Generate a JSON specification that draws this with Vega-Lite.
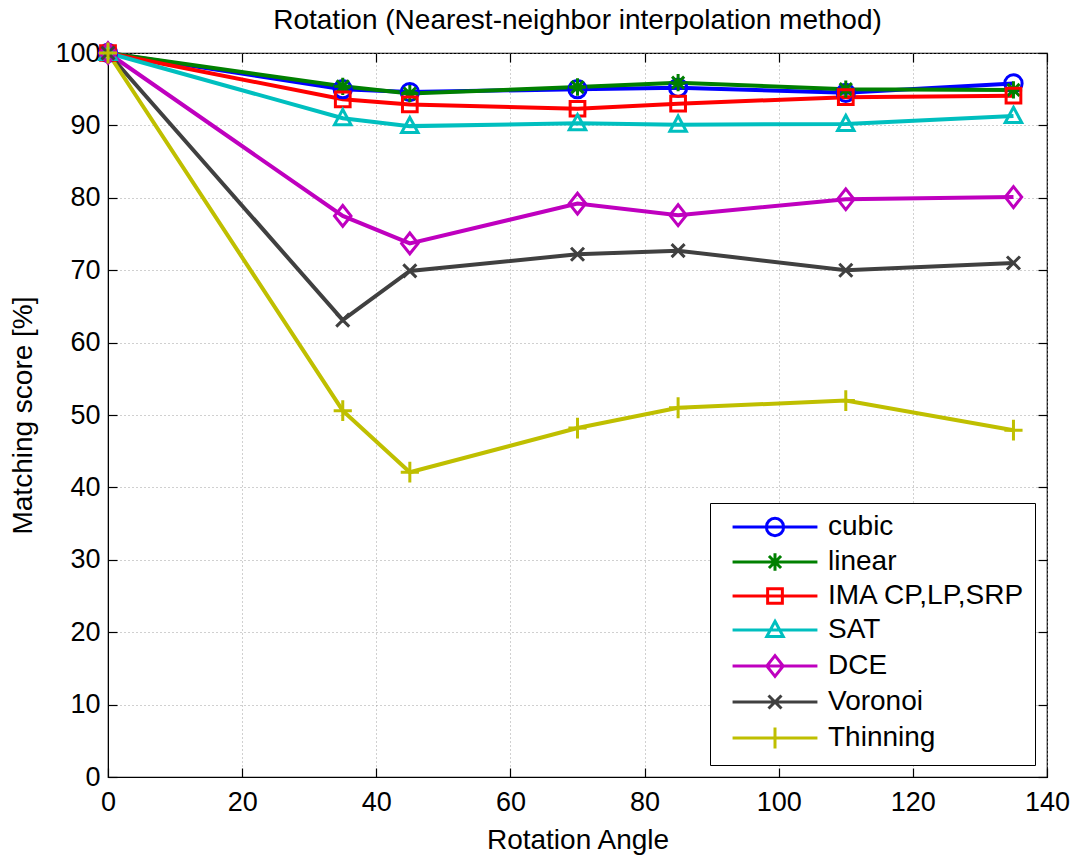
{
  "$schema": "https://vega.github.io/schema/vega-lite/v6.json",
  "width": 939,
  "height": 724,
  "autosize": {"type": "none"},
  "padding": {"left": 108, "top": 53, "right": 32, "bottom": 80},
  "background": "white",
  "title": {"text": "Rotation (Nearest-neighbor interpolation method)", "fontSize": 28, "fontWeight": "normal", "font": "Liberation Sans", "color": "black", "anchor": "middle", "offset": 2},
  "config": {
    "font": "Liberation Sans",
    "view": {"stroke": "black", "strokeWidth": 1.2},
    "axis": {
      "labelFont": "Liberation Sans", "titleFont": "Liberation Sans",
      "labelFontSize": 27, "titleFontSize": 28, "titleFontWeight": "normal",
      "labelColor": "black", "titleColor": "black",
      "domainColor": "black", "tickColor": "black", "tickSize": -9, "tickWidth": 1.2,
      "gridColor": "#a0a0a0", "gridDash": [1, 3], "gridWidth": 1
    },
    "legend": {"labelFont": "Liberation Sans", "labelFontSize": 28, "labelColor": "black", "labelLimit": 400}
  },
  "data": {"values": [
    {"series": "cubic", "angle": 0, "score": 100},
    {"series": "cubic", "angle": 35, "score": 95.0},
    {"series": "cubic", "angle": 45, "score": 94.6},
    {"series": "cubic", "angle": 70, "score": 95.0},
    {"series": "cubic", "angle": 85, "score": 95.2},
    {"series": "cubic", "angle": 110, "score": 94.5},
    {"series": "cubic", "angle": 135, "score": 95.8},
    {"series": "linear", "angle": 0, "score": 100},
    {"series": "linear", "angle": 35, "score": 95.4},
    {"series": "linear", "angle": 45, "score": 94.4},
    {"series": "linear", "angle": 70, "score": 95.3},
    {"series": "linear", "angle": 85, "score": 95.9},
    {"series": "linear", "angle": 110, "score": 95.0},
    {"series": "linear", "angle": 135, "score": 94.9},
    {"series": "IMA CP,LP,SRP", "angle": 0, "score": 100},
    {"series": "IMA CP,LP,SRP", "angle": 35, "score": 93.6},
    {"series": "IMA CP,LP,SRP", "angle": 45, "score": 92.9},
    {"series": "IMA CP,LP,SRP", "angle": 70, "score": 92.3},
    {"series": "IMA CP,LP,SRP", "angle": 85, "score": 93.0},
    {"series": "IMA CP,LP,SRP", "angle": 110, "score": 93.9},
    {"series": "IMA CP,LP,SRP", "angle": 135, "score": 94.1},
    {"series": "SAT", "angle": 0, "score": 100},
    {"series": "SAT", "angle": 35, "score": 91.0},
    {"series": "SAT", "angle": 45, "score": 89.9},
    {"series": "SAT", "angle": 70, "score": 90.3},
    {"series": "SAT", "angle": 85, "score": 90.1},
    {"series": "SAT", "angle": 110, "score": 90.2},
    {"series": "SAT", "angle": 135, "score": 91.3},
    {"series": "DCE", "angle": 0, "score": 100},
    {"series": "DCE", "angle": 35, "score": 77.5},
    {"series": "DCE", "angle": 45, "score": 73.7},
    {"series": "DCE", "angle": 70, "score": 79.2},
    {"series": "DCE", "angle": 85, "score": 77.6},
    {"series": "DCE", "angle": 110, "score": 79.8},
    {"series": "DCE", "angle": 135, "score": 80.1},
    {"series": "Voronoi", "angle": 0, "score": 100},
    {"series": "Voronoi", "angle": 35, "score": 63.1},
    {"series": "Voronoi", "angle": 45, "score": 69.9},
    {"series": "Voronoi", "angle": 70, "score": 72.2},
    {"series": "Voronoi", "angle": 85, "score": 72.7},
    {"series": "Voronoi", "angle": 110, "score": 70.0},
    {"series": "Voronoi", "angle": 135, "score": 71.0},
    {"series": "Thinning", "angle": 0, "score": 100},
    {"series": "Thinning", "angle": 35, "score": 50.6},
    {"series": "Thinning", "angle": 45, "score": 42.1},
    {"series": "Thinning", "angle": 70, "score": 48.2},
    {"series": "Thinning", "angle": 85, "score": 51.0},
    {"series": "Thinning", "angle": 110, "score": 52.0},
    {"series": "Thinning", "angle": 135, "score": 47.9}
  ]},
  "layer": [
    {
      "encoding": {
        "x": {"field": "angle", "type": "quantitative", "title": "Rotation Angle",
          "scale": {"domain": [0, 140], "nice": false},
          "axis": {"orient": "bottom", "values": [0, 20, 40, 60, 80, 100, 120, 140], "labelPadding": 21, "titlePadding": 11, "grid": true, "labelFlush": false}},
        "y": {"field": "score", "type": "quantitative", "title": "Matching score [%]",
          "scale": {"domain": [0, 100], "nice": false},
          "axis": {"orient": "left", "values": [0, 10, 20, 30, 40, 50, 60, 70, 80, 90, 100], "labelPadding": 17, "titlePadding": 17, "grid": true, "labelFlush": false}},
        "color": {"field": "series", "type": "nominal",
          "scale": {"domain": ["cubic", "linear", "IMA CP,LP,SRP", "SAT", "DCE", "Voronoi", "Thinning"],
                    "range": ["#0000FF", "#008000", "#FF0000", "#00BFBF", "#BF00BF", "#404040", "#BFBF00"]},
          "legend": null}
      },
      "layer": [
        {
          "mark": {"type": "line", "strokeWidth": 4},
          "encoding": {"detail": {"field": "series"}}
        },
        {
          "mark": {"type": "point", "filled": false, "strokeWidth": 3, "size": 300, "opacity": 1},
          "encoding": {
            "shape": {"field": "series", "type": "nominal",
              "scale": {"domain": ["cubic", "linear", "IMA CP,LP,SRP", "SAT", "DCE", "Voronoi", "Thinning"],
                        "range": [
                          "M-1,0A1,1,0,1,1,1,0A1,1,0,1,1,-1,0Z",
                          "M-1,0H1M0,-1V1M-0.7,-0.7L0.7,0.7M-0.7,0.7L0.7,-0.7",
                          "M-0.85,-0.85H0.85V0.85H-0.85Z",
                          "M0,-1L0.95,0.75H-0.95Z",
                          "M0,-1.2L0.95,0L0,1.2L-0.95,0Z",
                          "M-0.75,-0.75L0.75,0.75M-0.75,0.75L0.75,-0.75",
                          "M-1.05,0H1.05M0,-1.2V1.2"
                        ]},
              "legend": null}
          }
        }
      ]
    },
    {
      "mark": {"type": "point", "opacity": 0, "filled": false, "size": 300, "strokeWidth": 3},
      "encoding": {
        "x": {"field": "angle", "type": "quantitative", "scale": {"domain": [0, 140], "nice": false}, "axis": {"orient": "top", "values": [0, 20, 40, 60, 80, 100, 120, 140], "labels": false, "grid": false, "title": null, "domain": false}},
        "y": {"field": "score", "type": "quantitative", "scale": {"domain": [0, 100], "nice": false}, "axis": {"orient": "right", "values": [0, 10, 20, 30, 40, 50, 60, 70, 80, 90, 100], "labels": false, "grid": false, "title": null, "domain": false}},
        "color": {"field": "series", "type": "nominal",
          "scale": {"domain": ["cubic", "linear", "IMA CP,LP,SRP", "SAT", "DCE", "Voronoi", "Thinning"],
                    "range": ["#0000FF", "#008000", "#FF0000", "#00BFBF", "#BF00BF", "#404040", "#BFBF00"]},
          "legend": {"title": null, "orient": "bottom-right", "offset": 12, "padding": 10,
            "strokeColor": "black", "fillColor": "white", "symbolStrokeWidth": 3, "symbolOpacity": 1,
            "symbolOffset": 41, "labelOffset": 39, "rowPadding": 5, "symbolSize": 300}},
        "shape": {"field": "series", "type": "nominal",
          "scale": {"domain": ["cubic", "linear", "IMA CP,LP,SRP", "SAT", "DCE", "Voronoi", "Thinning"],
                    "range": [
                      "M-4.9,0H4.9M-1,0A1,1,0,1,1,1,0A1,1,0,1,1,-1,0Z",
                      "M-4.9,0H4.9M-1,0H1M0,-1V1M-0.7,-0.7L0.7,0.7M-0.7,0.7L0.7,-0.7",
                      "M-4.9,0H4.9M-0.85,-0.85H0.85V0.85H-0.85Z",
                      "M-4.9,0H4.9M0,-1L0.95,0.75H-0.95Z",
                      "M-4.9,0H4.9M0,-1.2L0.95,0L0,1.2L-0.95,0Z",
                      "M-4.9,0H4.9M-0.75,-0.75L0.75,0.75M-0.75,0.75L0.75,-0.75",
                      "M-4.9,0H4.9M-1.05,0H1.05M0,-1.2V1.2"
                    ]},
          "legend": {"title": null, "orient": "bottom-right", "offset": 12, "padding": 10,
            "strokeColor": "black", "fillColor": "white", "symbolStrokeWidth": 3, "symbolOpacity": 1,
            "symbolOffset": 41, "labelOffset": 39, "rowPadding": 5, "symbolSize": 300}}
      }
    }
  ],
  "resolve": {
    "axis": {"x": "independent", "y": "independent"},
    "scale": {"color": "independent", "shape": "independent"}
  }
}
